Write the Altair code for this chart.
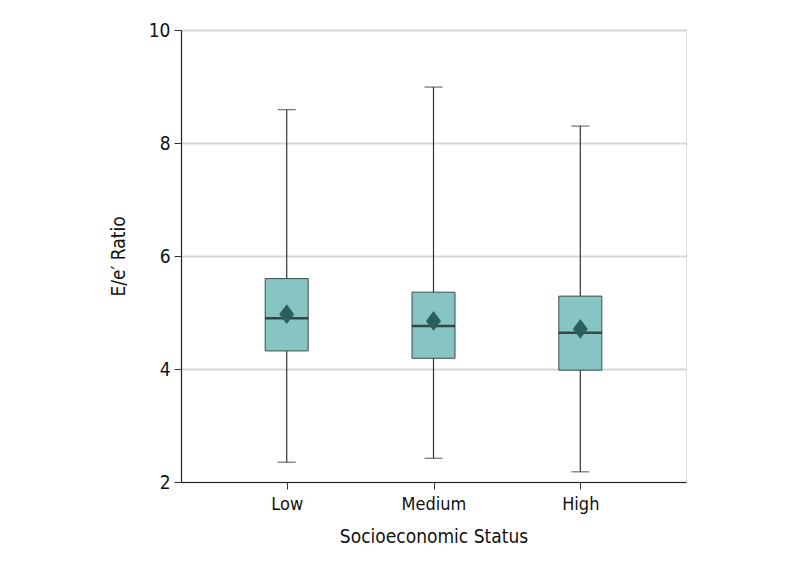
import altair as alt
import pandas as pd

categories = ["Low", "Medium", "High"]
whisker_min = [2.35, 2.42, 2.18]
q1 = [4.32, 4.19, 3.98]
median = [4.90, 4.76, 4.64]
q3 = [5.60, 5.36, 5.29]
whisker_max = [8.59, 8.99, 8.30]
mean = [4.97, 4.85, 4.71]

df = pd.DataFrame({
    "cat": categories, "lo": whisker_min, "q1": q1, "med": median,
    "q3": q3, "hi": whisker_max, "mean": mean,
})

FONT = "DejaVu Sans Condensed"

x = alt.X("cat:N", sort=categories, title="Socioeconomic Status",
          scale=alt.Scale(type="point", padding=0.72),
          axis=alt.Axis(labelAngle=0, labelFontSize=18, titleFontSize=19,
                        labelColor="#111", titleColor="#111", labelPadding=6,
                        titlePadding=14, tickSize=7, tickColor="#333",
                        domainColor="#222", domainWidth=1.2, grid=False,
                        labelFont=FONT, titleFont=FONT, titleFontWeight="normal"))
yscale = alt.Scale(domain=[2, 10], nice=False, zero=False)
yaxis = alt.Axis(values=[2, 4, 6, 8, 10], format="d", labelFontSize=19,
                 titleFontSize=19, labelColor="#111", titleColor="#111",
                 labelPadding=4, titlePadding=20, tickSize=7, tickColor="#333",
                 domainColor="#222", domainWidth=1.2, gridColor="#d6d6d6",
                 gridWidth=2, labelFont=FONT, titleFont=FONT,
                 titleFontWeight="normal")

base = alt.Chart(df)

whisk = base.mark_rule(color="#333", strokeWidth=1.2).encode(
    x=x, y=alt.Y("lo:Q", scale=yscale, axis=yaxis, title="E/e′ Ratio"), y2="hi:Q")
cap_lo = base.mark_tick(color="#333", size=18, thickness=1.2, orient="horizontal").encode(
    x=x, y=alt.Y("lo:Q", scale=yscale))
cap_hi = base.mark_tick(color="#333", size=18, thickness=1.2, orient="horizontal").encode(
    x=x, y=alt.Y("hi:Q", scale=yscale))
box = base.mark_bar(size=43, color="#86c5c3", stroke="#3d4b4b", strokeWidth=1).encode(
    x=x, y=alt.Y("q1:Q", scale=yscale), y2="q3:Q")
med = base.mark_tick(color="#111", size=43, thickness=2.5, orient="horizontal").encode(
    x=x, y=alt.Y("med:Q", scale=yscale))
mn = base.mark_point(shape="M0,-1.25L0.95,0L0,1.25L-0.95,0Z", size=250, filled=True,
                     color="#2b5f5d", opacity=1).encode(
    x=x, y=alt.Y("mean:Q", scale=yscale))

chart = alt.layer(whisk, cap_lo, cap_hi, box, med, mn).properties(
    width=505, height=452,
    autosize=alt.AutoSizeParams(type="none"),
    padding={"left": 173, "top": 22, "right": 104, "bottom": 77},
).configure_view(stroke=None).configure(background="white")

chart.save("out.html", embed_options={"renderer": "svg", "actions": False})
